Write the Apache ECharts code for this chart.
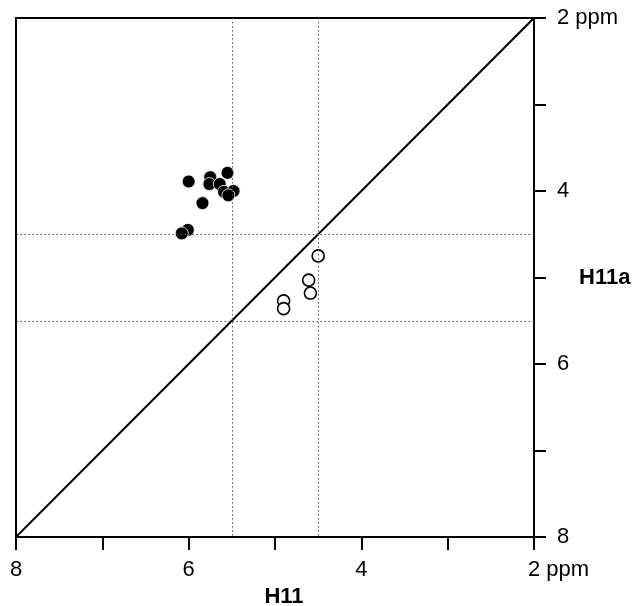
<!DOCTYPE html>
<html>
<head>
<meta charset="utf-8">
<script src="https://cdn.jsdelivr.net/npm/echarts@6/dist/echarts.min.js"></script>
<style>
html,body{margin:0;padding:0;background:#fff;}
#chart{width:633px;height:606px;}
</style>
</head>
<body>
<div id="chart"></div>
<script>
// ---- data ----
var filledPoints = [
  [6.00, 3.89], [5.75, 3.84], [5.76, 3.92], [5.55, 3.79], [5.64, 3.92],
  [5.59, 4.01], [5.48, 4.00], [5.54, 4.05], [5.84, 4.14], [6.01, 4.45], [6.08, 4.49]
];
var openPoints = [
  [4.50, 4.75], [4.61, 5.03], [4.59, 5.18], [4.90, 5.27], [4.90, 5.36]
];
var diagonal = [[8, 8], [2, 2]];
var guideX = [5.5, 4.5];
var guideY = [4.5, 5.5];
var xTickLabels = {8: '8', 6: '6', 4: '4', 2: '2 ppm'};
var yTickLabels = {2: '2 ppm', 4: '4', 6: '6', 8: '8'};
var xTitle = 'H11';
var yTitle = 'H11a';

var FONT = '"Liberation Sans", Arial, sans-serif';
var chart = echarts.init(document.getElementById('chart'), null, {renderer: 'canvas'});

var guideLines = [];
guideX.forEach(function (v) { guideLines.push({xAxis: v}); });
guideY.forEach(function (v) { guideLines.push({yAxis: v}); });

chart.setOption({
  animation: false,
  backgroundColor: '#fff',
  grid: {left: 16, top: 18, width: 518, height: 519, show: true, borderColor: '#000', borderWidth: 2,
         containLabel: false, outerBoundsMode: 'none'},
  xAxis: {
    type: 'value', min: 2, max: 8, interval: 1, inverse: true,
    axisLine: {show: true, onZero: false, lineStyle: {color: '#000', width: 2}},
    axisTick: {show: true, inside: false, length: 13, lineStyle: {color: '#000', width: 2}},
    splitLine: {show: false},
    axisLabel: {
      margin: 22, color: '#000', fontSize: 22, fontFamily: FONT,
      formatter: function (v) {
        var t = xTickLabels[v];
        if (!t) return '';
        return v === 2 ? '{p|' + t + '}' : t;
      },
      rich: {p: {fontSize: 22, fontFamily: FONT, color: '#000', padding: [0, 0, 0, 49]}}
    },
    name: xTitle, nameLocation: 'middle', nameGap: 49, nameMoveOverlap: false,
    nameTextStyle: {fontSize: 22, fontWeight: 'bold', fontFamily: FONT, color: '#000', padding: [0, 0, 0, 18]}
  },
  yAxis: {
    type: 'value', min: 2, max: 8, interval: 1, inverse: true, position: 'right',
    axisLine: {show: true, onZero: false, lineStyle: {color: '#000', width: 2}},
    axisTick: {show: true, inside: false, length: 12, lineStyle: {color: '#000', width: 2}},
    splitLine: {show: false},
    axisLabel: {
      margin: 23, color: '#000', fontSize: 22, fontFamily: FONT,
      formatter: function (v) { return yTickLabels[v] || ''; }
    },
    name: yTitle, nameLocation: 'middle', nameGap: 45, nameRotate: 0, nameMoveOverlap: false,
    nameTextStyle: {fontSize: 22, fontWeight: 'bold', fontFamily: FONT, color: '#000', align: 'left', padding: [0, 0, 8, 0]}
  },
  series: [
    {
      type: 'line', data: diagonal, symbol: 'none', silent: true,
      lineStyle: {color: '#000', width: 2},
      markLine: {
        silent: true, symbol: ['none', 'none'], label: {show: false},
        lineStyle: {color: '#555', width: 1, type: [1.5, 2.5]},
        data: guideLines
      }
    },
    {
      type: 'scatter', data: filledPoints, symbol: 'circle', symbolSize: 13,
      itemStyle: {color: '#000', borderColor: '#fff', borderWidth: 0.8, opacity: 1}
    },
    {
      type: 'scatter', data: openPoints, symbol: 'circle', symbolSize: 12,
      itemStyle: {color: '#fff', borderColor: '#000', borderWidth: 1.6, opacity: 1}
    }
  ]
});
</script>
</body>
</html>
